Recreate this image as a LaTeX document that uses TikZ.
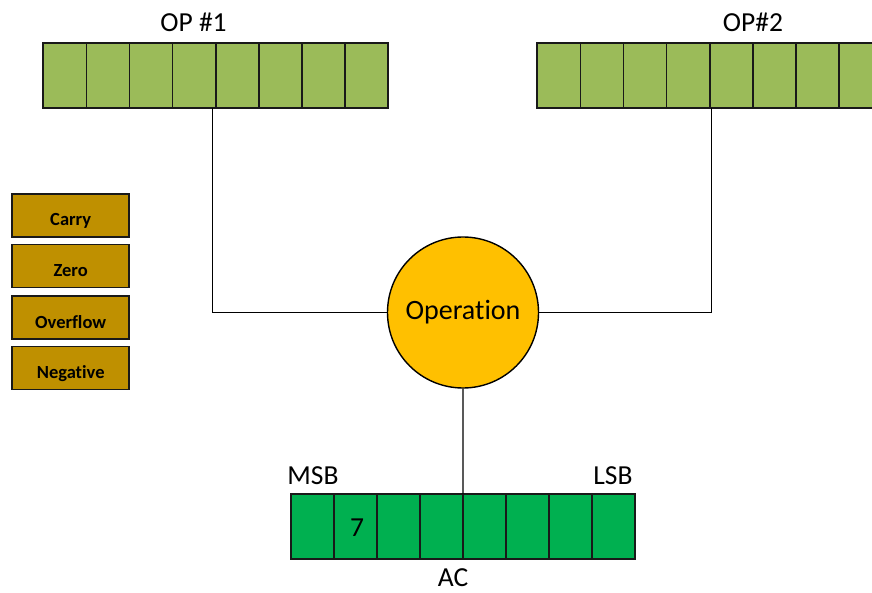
\documentclass[tikz,border=0pt]{standalone}
\usepackage{fontspec}
\setmainfont{Carlito}[Ligatures={NoCommon}]
\definecolor{opgreen}{HTML}{9BBB59}
\definecolor{acgreen}{HTML}{00B050}
\definecolor{flagc}{HTML}{BF9000}
\definecolor{opc}{HTML}{FFC000}
\begin{document}
\begin{tikzpicture}[x=1pt,y=-1pt,
  opcell/.style={draw=black!90,line width=1.7pt,fill=opgreen,minimum width=43.1pt,minimum height=65pt,inner sep=0pt,outer sep=0pt},
  accell/.style={draw=black!90,line width=1.7pt,fill=acgreen,minimum width=43.05pt,minimum height=65pt,inner sep=0pt,outer sep=0pt},
  flag/.style={draw=black!90,line width=1.5pt,fill=flagc,minimum width=117pt,minimum height=43pt,inner sep=0pt,text depth=0pt,font=\fontsize{18.5}{20}\selectfont\bfseries},
  lbl/.style={inner sep=0pt,font=\fontsize{27.5}{30}\selectfont},
  wire/.style={draw=black,line width=1.2pt}]
\clip (0,0) rectangle (872,593);
\fill[white] (0,0) rectangle (872,593);
% OP #1
\foreach \i in {1,...,8} {
  \node[opcell] (a\i) at ({43.3+43.1*(\i-0.5)},75.8) {};
}
% OP #2
\foreach \i in {1,...,8} {
  \node[opcell] (b\i) at ({537.3+43.1*(\i-0.5)},75.8) {};
}
% AC
\foreach \i in {1,...,8} {
  \node[accell] (c\i) at ({290.7+43.05*(\i-0.5)},526.5) {};
}
\node[lbl] (seven) at (357,528) {7};
\node[lbl] (op1lbl) at (193.5,22) {OP \#1};
\node[lbl] (op2lbl) at (753,22) {OP\#2};
\node[lbl] (msb) at (313,476) {MSB};
\node[lbl] (lsb) at (613,476) {LSB};
\node[lbl,text depth=0pt] (aclbl) at (453,578) {AC};
% flags
\node[flag] (carry) at (70.7,215.5) {\raisebox{-8.5pt}{Carry}};
\node[flag] (zero) at (70.7,266) {\raisebox{-8.5pt}{Zero}};
\node[flag] (ovf) at (70.7,317.5) {\raisebox{-8.5pt}{Overflow}};
\node[flag] (neg) at (70.7,368) {\raisebox{-8.5pt}{Negative}};
% operation
\node[circle,draw=black,line width=1.4pt,fill=opc,minimum size=151pt,inner sep=0pt,font=\fontsize{28}{30}\selectfont] (op) at (463,312.5) {\raisebox{-2pt}{Operation}};
% connectors
\coordinate (p1) at ([xshift=-3pt]a5.south west);
\coordinate (p2) at ([xshift=2pt]b5.south west);
\draw[wire] (p1) |- (op.west);
\draw[wire] (p2) |- (op.east);
\draw[wire] (op.south) -- (c5.north west);
\end{tikzpicture}
\end{document}
